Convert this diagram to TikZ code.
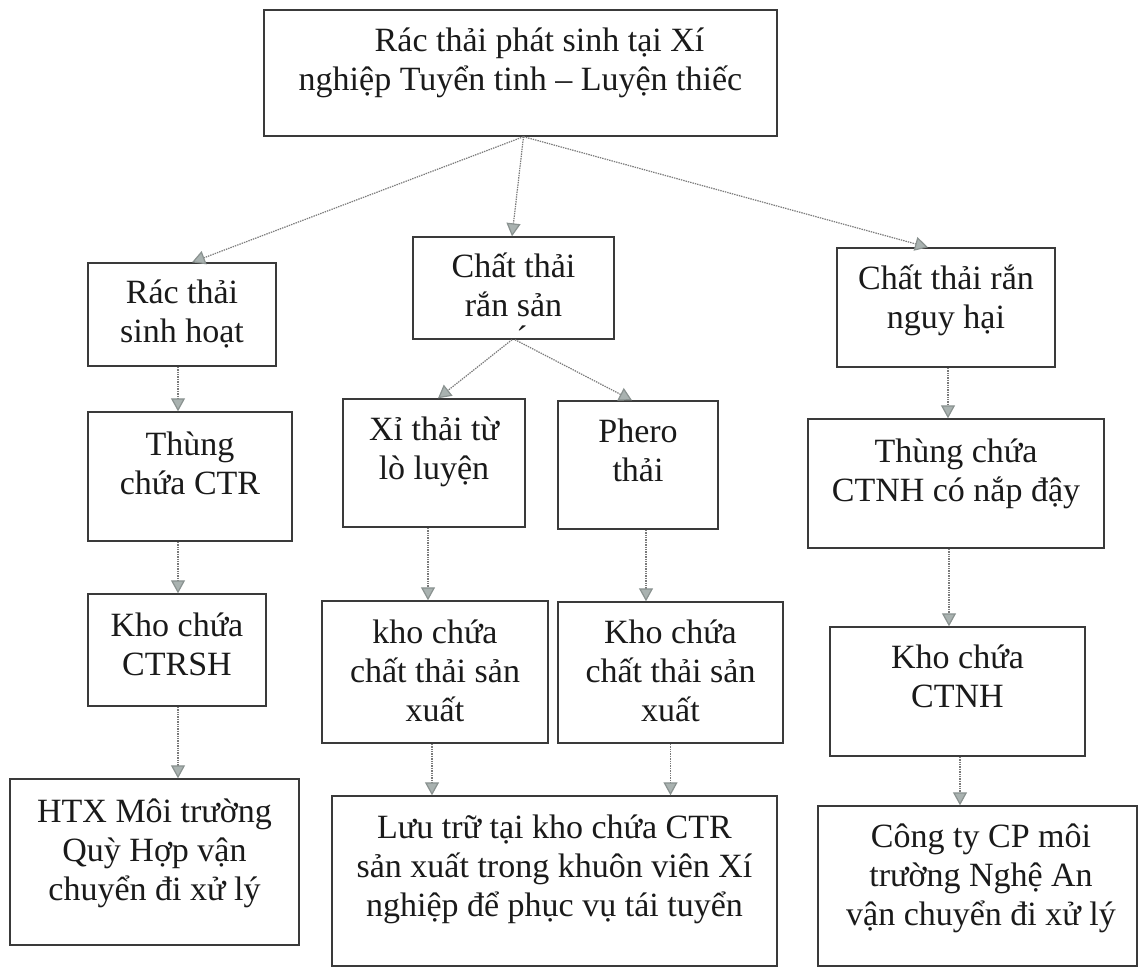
\documentclass[tikz,border=0pt]{standalone}
\usepackage{fontspec}
\setmainfont{Liberation Serif}
\usetikzlibrary{arrows.meta}
\definecolor{boxline}{HTML}{3A3A3A}
\definecolor{txtcol}{HTML}{1A1A1A}
\definecolor{arrline}{HTML}{7A7A7A}
\definecolor{arrfill}{HTML}{A9B2B0}
\definecolor{arrdraw}{HTML}{8A9290}
\newcommand\mlines[1]{\vtop{\lineskiplimit=-100pt\baselineskip=39pt\halign{\hfil##\hfil\cr#1\crcr}}}
\tikzset{
  box/.style={draw=boxline, line width=1.4pt, rectangle, inner sep=0pt},
  txt/.style={text=txtcol, inner sep=0pt, anchor=base, font=\fontsize{34}{39}\selectfont},
  arr/.style={draw=arrline, line width=1.2pt, dash pattern=on 1.4pt off 1pt,
    -{Triangle[length=13pt,width=14pt,fill=arrfill,color=arrdraw]}}
}
\begin{document}
\begin{tikzpicture}[x=1pt,y=-1pt]
\useasboundingbox[fill=white] (0,0) rectangle (1140,968);

% boxes
\node[box, minimum width=513pt, minimum height=126pt] (top) at (520.5,73) {};
\node[box, minimum width=188pt, minimum height=103pt] (rsh) at (182,314.5) {};
\node[box, minimum width=201pt, minimum height=102pt] (csx) at (513.5,288) {};
\node[box, minimum width=218pt, minimum height=119pt] (nh) at (946,307.5) {};
\node[box, minimum width=204pt, minimum height=129pt] (tctr) at (190,476.5) {};
\node[box, minimum width=182pt, minimum height=128pt] (xi) at (434,463) {};
\node[box, minimum width=160pt, minimum height=128pt] (phero) at (638,465) {};
\node[box, minimum width=296pt, minimum height=129pt] (tctnh) at (956,483.5) {};
\node[box, minimum width=178pt, minimum height=112pt] (kctrsh) at (177,650) {};
\node[box, minimum width=226pt, minimum height=142pt] (kl) at (435,672) {};
\node[box, minimum width=225pt, minimum height=141pt] (kr) at (670.5,672.5) {};
\node[box, minimum width=255pt, minimum height=129pt] (kctnh) at (957.5,691.5) {};
\node[box, minimum width=289pt, minimum height=166pt] (htx) at (154.5,862) {};
\node[box, minimum width=445pt, minimum height=170pt] (lt) at (554.5,881) {};
\node[box, minimum width=319pt, minimum height=160pt] (ct) at (977.5,886) {};

% texts
\node[txt] (ttop) at (520.5,52) {\mlines{\kern38pt Rác thải phát sinh tại Xí\cr nghiệp Tuyển tinh – Luyện thiếc}};
\node[txt] (trsh) at (182,304) {\mlines{Rác thải\cr sinh hoạt}};
\node[txt] (tcsx) at (513.5,278) {\mlines{Chất thải\cr rắn sản}};
\node[txt] (tacc) at (522,349) {´};
\node[txt] (tnh) at (946,290) {\mlines{Chất thải rắn\cr nguy hại}};
\node[txt] (ttctr) at (190,455) {\mlines{Thùng\cr chứa CTR}};
\node[txt] (txi) at (434,440) {\mlines{Xỉ thải từ\cr lò luyện}};
\node[txt] (tphero) at (638,442) {\mlines{Phero\cr thải}};
\node[txt] (ttctnh) at (956,462) {\mlines{Thùng chứa\cr CTNH có nắp đậy}};
\node[txt] (tkctrsh) at (177,636) {\mlines{Kho chứa\cr CTRSH}};
\node[txt] (tkl) at (435,643) {\mlines{kho chứa\cr chất thải sản\cr xuất}};
\node[txt] (tkr) at (670.5,643) {\mlines{Kho chứa\cr chất thải sản\cr xuất}};
\node[txt] (tkctnh) at (957.5,668) {\mlines{Kho chứa\cr CTNH}};
\node[txt] (thtx) at (154.5,822) {\mlines{HTX Môi trường\cr Quỳ Hợp vận\cr chuyển đi xử lý}};
\node[txt] (tlt) at (554.5,838) {\mlines{Lưu trữ tại kho chứa CTR\cr sản xuất trong khuôn viên Xí\cr nghiệp để phục vụ tái tuyển}};
\node[txt] (tct) at (981,847) {\mlines{Công ty CP môi\cr trường Nghệ An\cr vận chuyển đi xử lý}};

% connectors
\draw[arr] ([xshift=3pt]top.south) -- ([xshift=10pt]rsh.north);
\draw[arr] ([xshift=3pt]top.south) -- ([xshift=-1.5pt]csx.north);
\draw[arr] ([xshift=3pt]top.south) -- ([xshift=-18pt]nh.north);
\draw[arr] ([xshift=-1.5pt]csx.south) -- ([xshift=4pt]xi.north);
\draw[arr] ([xshift=1.5pt]csx.south) -- ([xshift=-6pt]phero.north);
\draw[arr] ([xshift=-4pt]rsh.south) -- ([xshift=-4pt]rsh.south |- tctr.north);
\draw[arr] ([xshift=-12pt]tctr.south) -- ([xshift=-12pt]tctr.south |- kctrsh.north);
\draw[arr] ([xshift=1pt]kctrsh.south) -- ([xshift=1pt]kctrsh.south |- htx.north);
\draw[arr] ([xshift=-6pt]xi.south) -- ([xshift=-6pt]xi.south |- kl.north);
\draw[arr] ([xshift=-3pt]kl.south) -- ([xshift=-3pt]kl.south |- lt.north);
\draw[arr] ([xshift=8pt]phero.south) -- ([xshift=8pt]phero.south |- kr.north);
\draw[arr] (kr.south) -- (kr.south |- lt.north);
\draw[arr] ([xshift=2pt]nh.south) -- ([xshift=2pt]nh.south |- tctnh.north);
\draw[arr] ([xshift=-7pt]tctnh.south) -- ([xshift=-7pt]tctnh.south |- kctnh.north);
\draw[arr] ([xshift=2.5pt]kctnh.south) -- ([xshift=2.5pt]kctnh.south |- ct.north);
\end{tikzpicture}
\end{document}
